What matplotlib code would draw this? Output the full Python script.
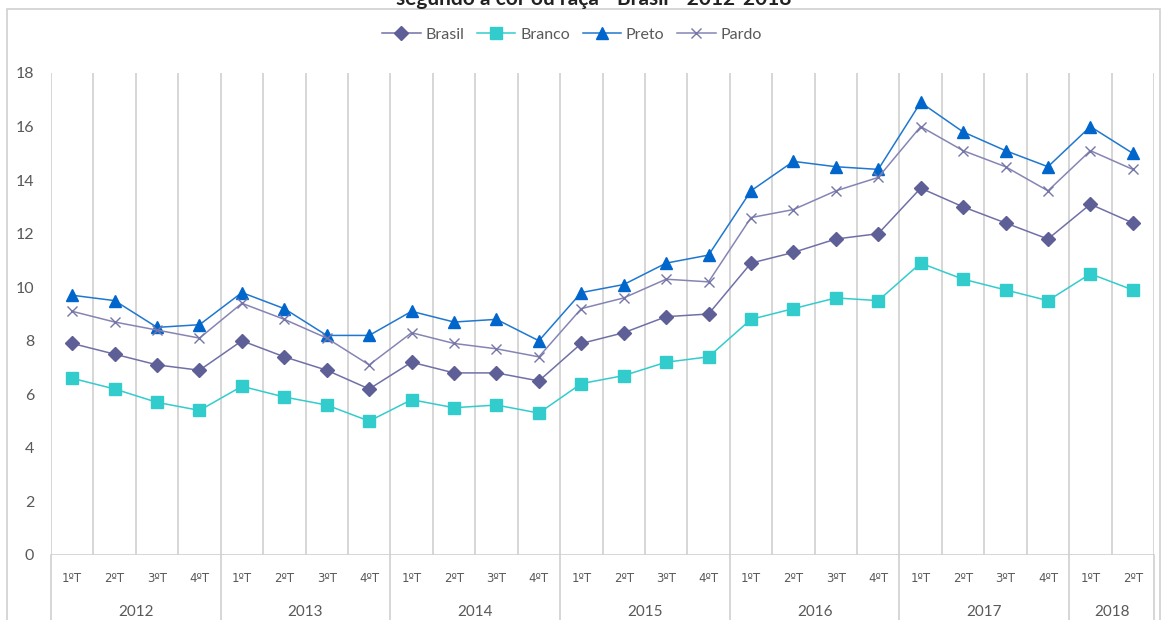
import numpy as np
import matplotlib
matplotlib.use('Agg')
import matplotlib.pyplot as plt
from matplotlib.patches import Rectangle

plt.rcParams['font.family'] = ['Lato', 'DejaVu Sans']

years = ['2012', '2013', '2014', '2015', '2016', '2017', '2018']
quarters_per_year = [4, 4, 4, 4, 4, 4, 2]
quarter_labels = ['1ºT', '2ºT', '3ºT', '4ºT']

brasil = [7.9, 7.5, 7.1, 6.9, 8.0, 7.4, 6.9, 6.2, 7.2, 6.8, 6.8, 6.5,
          7.9, 8.3, 8.9, 9.0, 10.9, 11.3, 11.8, 12.0, 13.7, 13.0, 12.4, 11.8,
          13.1, 12.4]
branco = [6.6, 6.2, 5.7, 5.4, 6.3, 5.9, 5.6, 5.0, 5.8, 5.5, 5.6, 5.3,
          6.4, 6.7, 7.2, 7.4, 8.8, 9.2, 9.6, 9.5, 10.9, 10.3, 9.9, 9.5,
          10.5, 9.9]
preto = [9.7, 9.5, 8.5, 8.6, 9.8, 9.2, 8.2, 8.2, 9.1, 8.7, 8.8, 8.0,
         9.8, 10.1, 10.9, 11.2, 13.6, 14.7, 14.5, 14.4, 16.9, 15.8, 15.1, 14.5,
         16.0, 15.0]
pardo = [9.1, 8.7, 8.4, 8.1, 9.4, 8.8, 8.1, 7.1, 8.3, 7.9, 7.7, 7.4,
         9.2, 9.6, 10.3, 10.2, 12.6, 12.9, 13.6, 14.1, 16.0, 15.1, 14.5, 13.6,
         15.1, 14.4]

grid_c = '#D0D0D0'
text_c = '#595959'

fig = plt.figure(figsize=(11.64, 6.2), dpi=100)
ax = fig.add_axes([51/1164, 1-555/620, (1154-51)/1164, (555-73)/620])

x = np.arange(len(brasil))
ax.plot(x, brasil, color='#7070A8', lw=1.1, marker='D', ms=7,
        mfc='#5F5F98', mec='#5F5F98', label='Brasil')
ax.plot(x, branco, color='#33CCCC', lw=1.1, marker='s', ms=9,
        mfc='#33CCCC', mec='#33CCCC', label='Branco')
ax.plot(x, preto, color='#1F77D0', lw=1.1, marker='^', ms=9,
        mfc='#0066CC', mec='#0066CC', label='Preto')
ax.plot(x, pardo, color='#8585B5', lw=1.1, marker='x', ms=7, mew=1.0,
        mec='#7575A8', label='Pardo')

n = len(brasil)
ax.set_xlim(-0.5, n - 0.5)
ax.set_ylim(0, 18)
ax.set_yticks(np.arange(0, 19, 2))
ax.tick_params(axis='y', length=0, pad=12, labelsize=11.5, labelcolor=text_c)
ax.set_xticks([])
for s in ax.spines.values():
    s.set_visible(False)

# category gridlines
for b in np.arange(-0.5, n, 1.0):
    ax.axvline(b, color=grid_c, lw=1.2, zorder=0)
ax.axhline(0, color=grid_c, lw=1.2, zorder=0)

# multi-level category labels
tr = ax.get_xaxis_transform()
i = 0
bounds = [-0.5]
for yr, nq in zip(years, quarters_per_year):
    for q in range(nq):
        ax.text(i + q, -0.048, quarter_labels[q], transform=tr, ha='center',
                va='center', fontsize=8.5, color=text_c, family='DejaVu Sans')
    ax.text(i + (nq - 1) / 2, -0.118, yr, transform=tr, ha='center',
            va='center', fontsize=11, color=text_c)
    i += nq
    bounds.append(i - 0.5)
for b in bounds:
    ax.plot([b, b], [0, -0.15], transform=tr, color=grid_c, lw=1.2, clip_on=False)

ax.legend(loc='center', bbox_to_anchor=(572/1164, 1-35/620),
          bbox_transform=fig.transFigure, ncol=4, frameon=False,
          fontsize=11.5, handlelength=2.4, columnspacing=0.8, handletextpad=0.3,
          labelcolor=text_c)

fig.text(0.51, 1-5/620, 'segundo a cor ou raça - Brasil - 2012-2018',
         ha='center', va='baseline', fontsize=15, fontweight='bold', color='#222222')

fig.add_artist(Rectangle((7/1164, -0.05), (1160-7)/1164, 1.05-9/620,
                         transform=fig.transFigure, fill=False,
                         edgecolor=grid_c, lw=1.2))

fig.savefig('out.png', dpi=100)
